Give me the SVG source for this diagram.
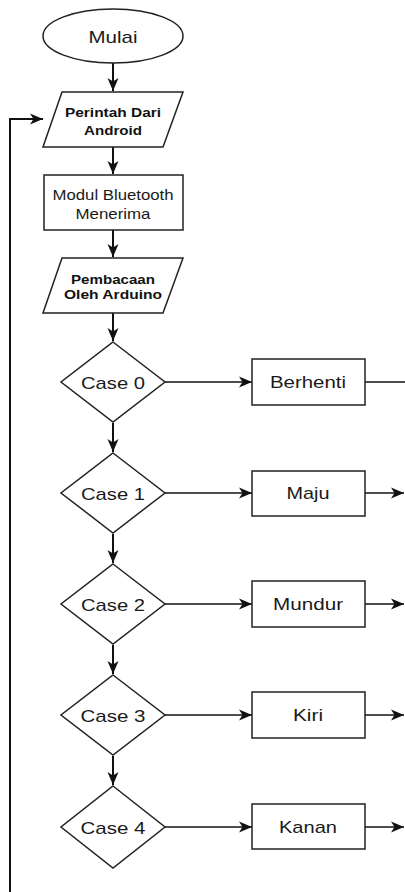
<svg xmlns="http://www.w3.org/2000/svg" width="405" height="892" viewBox="0 0 405 892">
<defs>
<marker id="ah" markerUnits="userSpaceOnUse" markerWidth="14" markerHeight="12" refX="13" refY="6" orient="auto">
<path d="M0,0.5 L13,6 L0,11.5 L3.5,6 z" fill="#111"/>
</marker>
<style>
.s{fill:#fff;stroke:#222;stroke-width:1.5}
.t{font-family:"Liberation Sans",Arial,sans-serif;font-size:17px;fill:#1a1a1a;text-anchor:middle}
.b{font-family:"Liberation Sans",Arial,sans-serif;font-size:13px;font-weight:bold;fill:#111;text-anchor:middle}
.v{fill:none;stroke:#111;stroke-width:2;marker-end:url(#ah)}
.h{fill:none;stroke:#111;stroke-width:1.4;marker-end:url(#ah)}
.n{fill:none;stroke:#111;stroke-width:1.4}
</style>
</defs>
<rect width="405" height="892" fill="#fff"/>
<g id="connectors">
<path class="v" d="M113,63 V91"/>
<path class="v" d="M113,147 V174"/>
<path class="v" d="M113,230 V257"/>
<path class="v" d="M113,313 V341"/>
<path class="v" d="M113,423 V452"/>
<path class="v" d="M113,534 V563"/>
<path class="v" d="M113,645 V674"/>
<path class="v" d="M113,756 V785"/>
<path class="v" d="M10,892 V119 H43"/>
<path class="h" d="M165,382 H252"/>
<path class="h" d="M165,493 H252"/>
<path class="h" d="M165,604 H252"/>
<path class="h" d="M165,715 H252"/>
<path class="h" d="M165,827 H252"/>
<path class="n" d="M365,382 H405"/>
<path class="h" d="M365,493 H404"/>
<path class="h" d="M365,604 H404"/>
<path class="h" d="M365,715 H404"/>
<path class="h" d="M365,827 H404"/>
</g>
<g id="mulai"><ellipse class="s" cx="113" cy="36" rx="70" ry="27"/><text class="t" x="113" y="43" textLength="49" lengthAdjust="spacingAndGlyphs">Mulai</text></g>
<g id="perintah"><polygon class="s" points="62,92 183,92 163,147 43,147"/><text class="b" x="113" y="117" textLength="96" lengthAdjust="spacingAndGlyphs">Perintah Dari</text><text class="b" x="113" y="135" textLength="58" lengthAdjust="spacingAndGlyphs">Android</text></g>
<g id="modul"><rect class="s" x="44" y="175" width="139" height="55"/><text class="t" x="113" y="200" style="font-size:15px" textLength="121" lengthAdjust="spacingAndGlyphs">Modul Bluetooth</text><text class="t" x="113" y="219" style="font-size:15px" textLength="75" lengthAdjust="spacingAndGlyphs">Menerima</text></g>
<g id="pembacaan"><polygon class="s" points="62,258 183,258 163,313 43,313"/><text class="b" x="113" y="284" textLength="84" lengthAdjust="spacingAndGlyphs">Pembacaan</text><text class="b" x="113" y="299" textLength="98" lengthAdjust="spacingAndGlyphs">Oleh Arduino</text></g>
<g id="case0"><polygon class="s" points="113,342 165,382 113,422 61,382"/><text class="t" x="113" y="389" textLength="64" lengthAdjust="spacingAndGlyphs">Case 0</text></g>
<g id="case1"><polygon class="s" points="113,453 165,493 113,533 61,493"/><text class="t" x="113" y="500" textLength="64" lengthAdjust="spacingAndGlyphs">Case 1</text></g>
<g id="case2"><polygon class="s" points="113,564 165,604 113,644 61,604"/><text class="t" x="113" y="611" textLength="64" lengthAdjust="spacingAndGlyphs">Case 2</text></g>
<g id="case3"><polygon class="s" points="113,675 165,715 113,755 61,715"/><text class="t" x="113" y="722" textLength="65" lengthAdjust="spacingAndGlyphs">Case 3</text></g>
<g id="case4"><polygon class="s" points="113,786 165,827 113,868 61,827"/><text class="t" x="113" y="834" textLength="65" lengthAdjust="spacingAndGlyphs">Case 4</text></g>
<g id="berhenti"><rect class="s" x="252" y="359" width="113" height="46"/><text class="t" x="308" y="388" textLength="76" lengthAdjust="spacingAndGlyphs">Berhenti</text></g>
<g id="maju"><rect class="s" x="252" y="471" width="113" height="45"/><text class="t" x="308" y="499" textLength="43" lengthAdjust="spacingAndGlyphs">Maju</text></g>
<g id="mundur"><rect class="s" x="252" y="581" width="113" height="46"/><text class="t" x="308" y="610" textLength="70" lengthAdjust="spacingAndGlyphs">Mundur</text></g>
<g id="kiri"><rect class="s" x="252" y="692" width="113" height="46"/><text class="t" x="308" y="721" textLength="30" lengthAdjust="spacingAndGlyphs">Kiri</text></g>
<g id="kanan"><rect class="s" x="252" y="804" width="113" height="45"/><text class="t" x="308" y="833" textLength="58" lengthAdjust="spacingAndGlyphs">Kanan</text></g>
</svg>
